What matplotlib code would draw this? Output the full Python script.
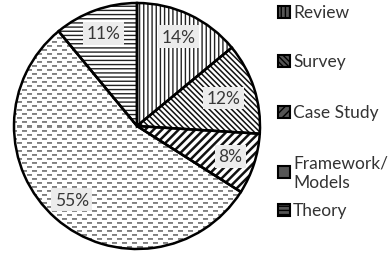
import numpy as np
import matplotlib
matplotlib.use('Agg')
import matplotlib.pyplot as plt
from matplotlib.patches import Rectangle

plt.rcParams['font.family'] = ['Lato', 'DejaVu Sans']
plt.rcParams['hatch.linewidth'] = 1.0

# Data
categories = ['Review', 'Survey', 'Case Study', 'Framework/\nModels', 'Theory']
shares = [14, 12, 8, 55, 11]
hatches = ['||||', '\\\\\\\\\\\\', '////', None, '----']
hatch_colors = ['#222222', '#111111', '#111111', '#888888', '#222222']
hatch_widths = [1.0, 1.1, 1.8, 1.0, 1.0]

fig = plt.figure(figsize=(3.9, 2.55), dpi=100)
lim = 1.02
half = 123 * lim
ax = fig.add_axes([(137 - half) / 390, (128 - half) / 255, 2 * half / 390, 2 * half / 255])

# hatched fills
fills, _ = ax.pie(shares, startangle=90, counterclock=False,
                  wedgeprops=dict(linewidth=0))
for w, h, c, lw in zip(fills, hatches, hatch_colors, hatch_widths):
    w.set_facecolor('white')
    w.set_edgecolor(c)
    if h:
        w.set_hatch(h)
        if hasattr(w, 'set_hatch_linewidth'):
            w.set_hatch_linewidth(lw)
        else:
            w._hatch_linewidth = lw

# brick-dash texture for Framework/Models
n = int(2 * half)
yy, xx = np.mgrid[0:n, 0:n]
row = yy % 8
shift = np.where(yy % 8 < 4, 0, 5)
tex = np.ones((n, n))
tex[((row == 1) | (row == 5)) & (((xx + shift) % 10) < 5)] = 0.5
tex[((row == 2) | (row == 6)) & (((xx + shift) % 10) < 5)] = 0.55
img = ax.imshow(tex, cmap='gray', vmin=0, vmax=1, extent=(-lim, lim, -lim, lim),
                interpolation='nearest', zorder=1.5)
img.set_clip_path(fills[3])

# outlines and labels
outl, _, pct = ax.pie(shares, startangle=90, counterclock=False, autopct='%d%%',
                      pctdistance=0.8,
                      wedgeprops=dict(facecolor='none', edgecolor='black', linewidth=1.8),
                      textprops=dict(fontsize=12.5, color='#383838'))
for w in outl:
    w.set_zorder(2)
for t in pct:
    t.set_zorder(3)
    t.set_bbox(dict(facecolor='#ececec', edgecolor='none', pad=2.5))
pct[1].set_position((pct[1].get_position()[0] * 0.92, pct[1].get_position()[1] * 0.92))

ax.set_xlim(-lim, lim)
ax.set_ylim(-lim, lim)
ax.set_aspect('equal')
ax.axis('off')

# legend
leg_y = [13, 62, 113, 173, 211]
for lab, h, c, y in zip(categories, hatches, hatch_colors, leg_y):
    fy = 1 - y / 255
    sq = Rectangle((278 / 390, fy - 6 / 255), 12 / 390, 12 / 255,
                   transform=fig.transFigure, facecolor='#555555',
                   edgecolor='black', linewidth=1.5, hatch=h)
    fig.add_artist(sq)
    fig.text(293 / 390, fy, lab, fontsize=12.5, color='#333333',
             va='center', ha='left', linespacing=1.25)

fig.savefig('out.png', dpi=100)
